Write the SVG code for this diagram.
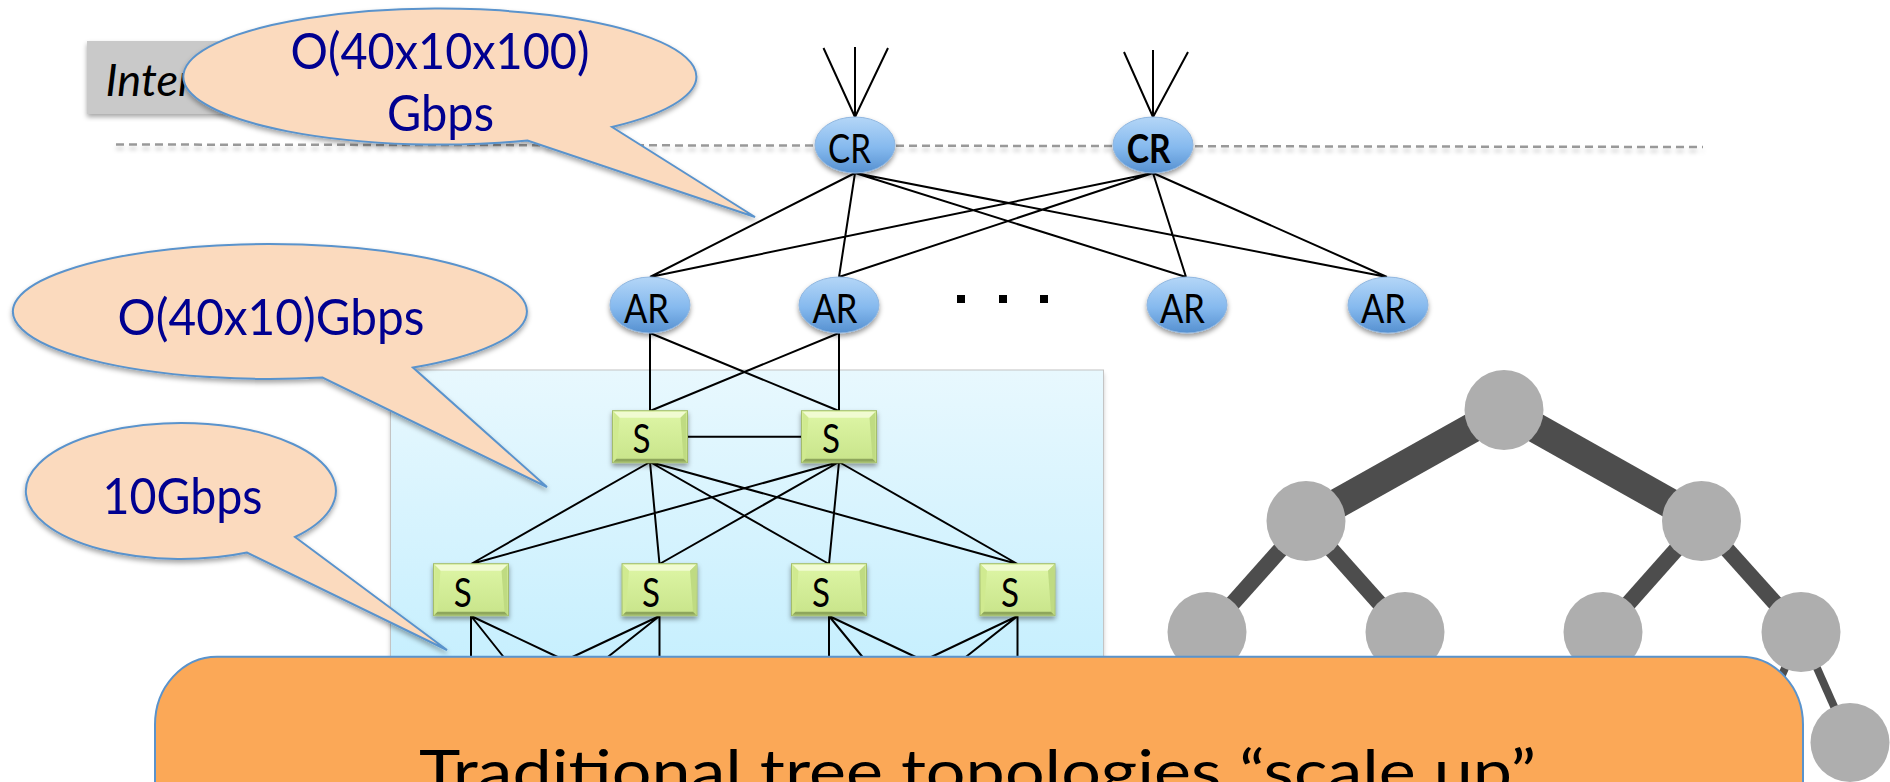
<svg xmlns="http://www.w3.org/2000/svg" xmlns:xlink="http://www.w3.org/1999/xlink" width="1890" height="782" viewBox="0 0 1890 782">
<style>
text{font-family:"Lato","Liberation Sans",sans-serif}
.net{font-size:40px;fill:#000;text-anchor:start}
.call{font-size:50px;fill:#000090;text-anchor:start}
.cr{fill:url(#blue);stroke:#8fb6e0;stroke-width:1;filter:url(#sh)}
.ln{stroke:#000;stroke-width:2;fill:none}
.thick{stroke:#4d4d4d;fill:none}
.gn{fill:#aeaeae}
.callout{fill:#fbdabe;stroke:#5a93cc;stroke-width:2;filter:url(#shc)}
</style>
<defs>
<linearGradient id="blue" x1="0" y1="0" x2="0" y2="1"><stop offset="0" stop-color="#b4d6f7"/><stop offset="0.55" stop-color="#85b9ee"/><stop offset="1" stop-color="#5590d0"/></linearGradient>
<linearGradient id="green" x1="0" y1="0" x2="0" y2="1"><stop offset="0" stop-color="#def6a6"/><stop offset="1" stop-color="#c8e48a"/></linearGradient>
<linearGradient id="sky" x1="0" y1="0" x2="0" y2="1"><stop offset="0" stop-color="#e8f8fe"/><stop offset="1" stop-color="#c6effe"/></linearGradient>
<filter id="sh" x="-20%" y="-20%" width="140%" height="150%"><feDropShadow dx="0" dy="3" stdDeviation="2.500" flood-color="#000" flood-opacity="0.4"/></filter>
<filter id="shc" x="-5%" y="-5%" width="110%" height="115%"><feDropShadow dx="0" dy="3" stdDeviation="2.500" flood-color="#000" flood-opacity="0.35"/></filter>
<filter id="shl" x="-1%" y="-500%" width="102%" height="1100%"><feDropShadow dx="0" dy="4" stdDeviation="2" flood-color="#000" flood-opacity="0.2"/></filter>
<g id="sbox">
<rect x="0" y="0" width="75" height="52" fill="url(#green)" stroke="#a4bd6c" stroke-width="1" filter="url(#sh)"/>
<polygon points="1,1 74,1 68,7 7,7" fill="#f1fbd2"/>
<polygon points="1,1 7,7 4,48 1,51" fill="#d0ea90"/>
<polygon points="74,1 68,7 71,48 74,51" fill="#bfdb82"/>
<polygon points="1,51 4,48 71,48 74,51" fill="#8ea65c"/>
</g>
</defs>
<rect width="1890" height="782" fill="#fff"/>
<g id="internet-box">
<rect x="87" y="41" width="240" height="73" fill="#c9c9c9" filter="url(#shc)"/>
<text x="105.500" y="95.700" font-size="44" font-style="italic" fill="#000" textLength="88" lengthAdjust="spacingAndGlyphs">Inter</text>
</g>
<line id="internet-boundary" x1="116" y1="144.500" x2="1703" y2="147" stroke="#999" stroke-width="2.500" stroke-dasharray="8 5" filter="url(#shl)"/>
<rect id="pod-background" x="390.500" y="370" width="713" height="300" fill="url(#sky)" stroke="#c4c4c4" stroke-width="1" filter="url(#shl)"/>
<g id="connectors">
<path class="ln" d="M855,117 L823.500,48 M855,117 V47 M855,117 L888,48 M1153,117 L1124,52 M1153,117 V50 M1153,117 L1188,52"/>
<path class="ln" d="M855,173 L650,277 M855,173 L839,277 M855,173 L1186,277 M855,173 L1387,277 M1153,173 L650,277 M1153,173 L839,277 M1153,173 L1186,277 M1153,173 L1387,277"/>
<path class="ln" d="M650,333 V411 M650,333 L839,411 M839,333 L650,411 M839,333 V411 M687,436.700 H801"/>
<path class="ln" d="M650,462 L471,564 M650,462 L659.500,564 M650,462 L829,564 M650,462 L1017.500,564 M839,462 L471,564 M839,462 L659.500,564 M839,462 L829,564 M839,462 L1017.500,564"/>
<path class="ln" d="M471,616 V660 M471,616 L506,660 M471,616 L564,660 M659.500,616 L566,660 M659.500,616 L604,660 M659.500,616 V660 M829,616 V660 M829,616 L865,660 M829,616 L922,660 M1017.500,616 L925,660 M1017.500,616 L962,660 M1017.500,616 V660"/>
<line class="thick" stroke-width="30" x1="1504" y1="410" x2="1306" y2="521"/>
<line class="thick" stroke-width="30" x1="1504" y1="410" x2="1701.500" y2="521"/>
<g stroke-width="16">
<line class="thick" x1="1306" y1="521" x2="1207" y2="632"/>
<line class="thick" x1="1306" y1="521" x2="1405" y2="632"/>
<line class="thick" x1="1701.500" y1="521" x2="1603" y2="632"/>
<line class="thick" x1="1701.500" y1="521" x2="1801" y2="632"/>
</g>
<g stroke-width="8">
<line class="thick" x1="1801" y1="632" x2="1850" y2="742.500"/>
<line class="thick" x1="1801" y1="632" x2="1752" y2="742.500"/>
</g>
</g>
<g id="cr1"><ellipse class="cr" cx="855" cy="145" rx="40" ry="28"/><text class="net" x="828" y="163" textLength="43" lengthAdjust="spacingAndGlyphs">CR</text></g>
<g id="cr2"><ellipse class="cr" cx="1153" cy="145" rx="40" ry="28"/><text class="net" x="1126.700" y="163" font-weight="700" textLength="44" lengthAdjust="spacingAndGlyphs">CR</text></g>
<g id="ar1"><ellipse class="cr" cx="650" cy="305" rx="40" ry="28"/><text class="net" x="624" y="322.500" textLength="45" lengthAdjust="spacingAndGlyphs">AR</text></g>
<g id="ar2"><ellipse class="cr" cx="839" cy="305" rx="40" ry="28"/><text class="net" x="812.500" y="322.500" textLength="45" lengthAdjust="spacingAndGlyphs">AR</text></g>
<g id="ar3"><ellipse class="cr" cx="1187" cy="305" rx="40" ry="28"/><text class="net" x="1160" y="322.500" textLength="45" lengthAdjust="spacingAndGlyphs">AR</text></g>
<g id="ar4"><ellipse class="cr" cx="1388" cy="305" rx="40" ry="28"/><text class="net" x="1361" y="322.500" textLength="45" lengthAdjust="spacingAndGlyphs">AR</text></g>
<g id="dots" fill="#000"><rect x="957" y="295" width="8" height="8"/><rect x="999" y="295" width="8" height="8"/><rect x="1040" y="295" width="8" height="8"/></g>
<g id="s1"><use xlink:href="#sbox" href="#sbox" x="612.500" y="410.700"/><text class="net" x="632.500" y="453" textLength="18" lengthAdjust="spacingAndGlyphs">S</text></g>
<g id="s2"><use xlink:href="#sbox" href="#sbox" x="801.500" y="410.700"/><text class="net" x="822" y="453" textLength="18" lengthAdjust="spacingAndGlyphs">S</text></g>
<g id="s3"><use xlink:href="#sbox" href="#sbox" x="433.500" y="563.700"/><text class="net" x="453.700" y="607" textLength="18" lengthAdjust="spacingAndGlyphs">S</text></g>
<g id="s4"><use xlink:href="#sbox" href="#sbox" x="622" y="563.700"/><text class="net" x="642" y="607" textLength="18" lengthAdjust="spacingAndGlyphs">S</text></g>
<g id="s5"><use xlink:href="#sbox" href="#sbox" x="791.500" y="563.700"/><text class="net" x="812" y="607" textLength="18" lengthAdjust="spacingAndGlyphs">S</text></g>
<g id="s6"><use xlink:href="#sbox" href="#sbox" x="980" y="563.700"/><text class="net" x="1001" y="607" textLength="18" lengthAdjust="spacingAndGlyphs">S</text></g>
<g id="tree-root"><ellipse class="gn" cx="1504" cy="410" rx="39.500" ry="40"/></g>
<g id="tree-l"><ellipse class="gn" cx="1306" cy="521" rx="39.500" ry="40"/></g>
<g id="tree-r"><ellipse class="gn" cx="1701.500" cy="521" rx="39.500" ry="40"/></g>
<g id="tree-ll"><ellipse class="gn" cx="1207" cy="632" rx="39.500" ry="40"/></g>
<g id="tree-lr"><ellipse class="gn" cx="1405" cy="632" rx="39.500" ry="40"/></g>
<g id="tree-rl"><ellipse class="gn" cx="1603" cy="632" rx="39.500" ry="40"/></g>
<g id="tree-rr"><ellipse class="gn" cx="1801" cy="632" rx="39.500" ry="40"/></g>
<g id="tree-leaf"><ellipse class="gn" cx="1850" cy="742.500" rx="39.500" ry="39.500"/></g>
<g id="callout-core">
<path class="callout" d="M612,127 A256.500,68 0 1 0 527.500,140.500 L755,217 Z"/>
<text class="call" x="290.500" y="68.500" textLength="299" lengthAdjust="spacingAndGlyphs">O(40x10x100)</text>
<text class="call" x="387" y="131" textLength="107" lengthAdjust="spacingAndGlyphs">Gbps</text>
</g>
<g id="callout-agg">
<path class="callout" d="M413,367.600 A257,67.500 0 1 0 322.500,377.600 L547,487 Z"/>
<text class="call" x="117.500" y="334.500" textLength="307" lengthAdjust="spacingAndGlyphs">O(40x10)Gbps</text>
</g>
<g id="callout-access">
<path class="callout" d="M295,537 A155,68 0 1 0 247,552.500 L447,650 Z"/>
<text class="call" x="102.500" y="513.500" textLength="160" lengthAdjust="spacingAndGlyphs">10Gbps</text>
</g>
<g id="message">
<rect x="155" y="656.700" width="1648" height="200" rx="62" ry="68" fill="#fba857" stroke="#5a93cc" stroke-width="2"/>
<text x="419" y="793" font-size="60" fill="#000" textLength="1117" lengthAdjust="spacingAndGlyphs">Traditional tree topologies “scale up”</text>
</g>
</svg>
